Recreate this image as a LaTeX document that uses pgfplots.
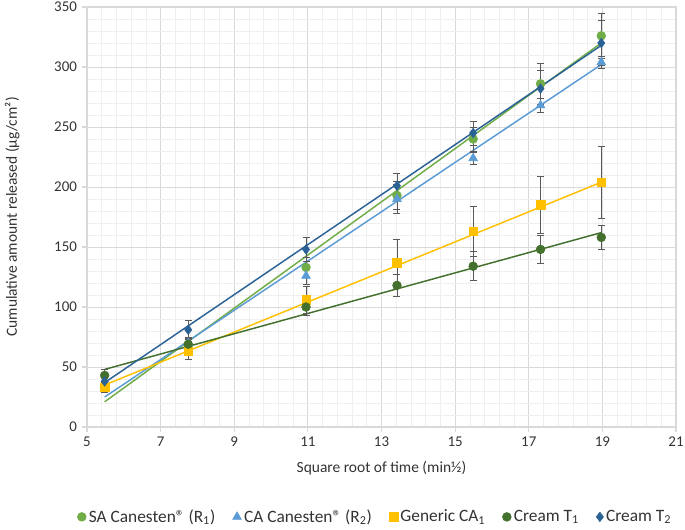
\documentclass[border=0pt]{standalone}
\usepackage{pgfplots}
\usepackage{pgfplotstable}
\pgfplotsset{compat=1.18}
\usepackage{fontspec}
\setmainfont{Carlito}

\definecolor{saGreen}{HTML}{70AD47}
\definecolor{caBlue}{HTML}{5B9BD5}
\definecolor{genYellow}{HTML}{FFC000}
\definecolor{tOneGreen}{HTML}{43702C}
\definecolor{tTwoBlue}{HTML}{2B6296}
\definecolor{txt}{HTML}{333333}
\definecolor{majgrid}{HTML}{D9D9D9}
\definecolor{mingrid}{HTML}{EFEFEF}
\definecolor{errgray}{HTML}{595959}

% x = sqrt(t), y = mean, e = sd
\pgfplotstableread{
x y e
5.48 35 3
7.75 68 5
10.95 133 8
13.42 193 12
15.49 240 10
17.32 286 17
18.97 326 19
}\saTab
\pgfplotstableread{
x y e
5.48 34 3
7.75 70 5
10.95 126 7
13.42 190 12
15.49 224 5
17.32 268 6
18.97 304 5
}\caTab
\pgfplotstableread{
x y e
5.48 33 4
7.75 63 7
10.95 106 11
13.42 137 19
15.49 163 21
17.32 185 24
18.97 204 30
}\genTab
\pgfplotstableread{
x y e
5.48 43 5
7.75 69 5
10.95 100 7
13.42 118 9
15.49 134 12
17.32 148 12
18.97 158 10
}\tOneTab
\pgfplotstableread{
x y e
5.48 38 4
7.75 81 8
10.95 148 10
13.42 201 10
15.49 245 10
17.32 282 15
18.97 320 19
}\tTwoTab

\begin{document}
\begin{tikzpicture}
\begin{axis}[
    name=ax,
    scale only axis,
    width=441.75pt, height=315pt,
    xmin=5, xmax=21, ymin=0, ymax=350,
    xtick={5,7,...,21}, ytick={0,50,...,350},
    minor tick num=4,
    grid=both,
    major grid style={majgrid, line width=0.6pt},
    minor grid style={mingrid, line width=0.5pt},
    axis line style={majgrid, line width=0.8pt},
    tick style={majgrid, line width=0.8pt},
    major tick length=4pt, minor tick length=0pt,
    tick align=outside,
    xtick pos=bottom, ytick pos=left,
    font=\fontsize{11}{13}\selectfont,
    tick label style={text=txt, font=\fontsize{11.2}{13}\selectfont},
    /pgf/number format/assume math mode=true,
    xlabel={Square root of time (min½)},
    ylabel={Cumulative amount released (µg/cm²)},
    label style={text=txt, font=\fontsize{11.6}{13}\selectfont},
    xlabel style={at={(axis description cs:0.5,-0.098)}, anchor=center},
    ylabel style={at={(axis description cs:-0.127,0.5)}, anchor=center},
    legend style={at={(0.49,-0.214)}, anchor=center, draw=none,
        legend columns=-1, text=txt, font=\fontsize{13}{15}\selectfont,
        /tikz/every even column/.append style={column sep=11pt}},
    legend cell align=left,
    clip=false,
    error bars/error bar style={errgray, line width=0.6pt},
    error bars/error mark options={errgray, rotate=90, mark size=2.6pt, line width=0.6pt},
]
% linear trendlines
\addplot[saGreen, line width=1.1pt, forget plot] coordinates {(5.48,21) (18.97,320)};
\addplot[caBlue, line width=1.1pt, forget plot] coordinates {(5.48,25) (18.97,302)};
\addplot[genYellow, line width=1.1pt, forget plot] coordinates {(5.48,35) (18.97,204)};
\addplot[tOneGreen, line width=1.1pt, forget plot] coordinates {(5.48,48) (18.97,162)};
\addplot[tTwoBlue, line width=1.1pt, forget plot] coordinates {(5.48,37) (18.97,318)};

\addplot[only marks, mark=*, mark size=3.3pt, mark options={fill=saGreen, draw=saGreen},
    error bars/.cd, y dir=both, y explicit]
    table[x=x, y=y, y error=e] {\saTab};
\addlegendentry{SA Canesten® (R\textsubscript{1})}
\addplot[only marks, mark=triangle*, mark size=3.8pt, mark options={fill=caBlue, draw=caBlue},
    error bars/.cd, y dir=both, y explicit]
    table[x=x, y=y, y error=e] {\caTab};
\addlegendentry{CA Canesten® (R\textsubscript{2})}
\addplot[only marks, mark=square*, mark size=3.2pt, mark options={fill=genYellow, draw=genYellow},
    error bars/.cd, y dir=both, y explicit]
    table[x=x, y=y, y error=e] {\genTab};
\addlegendentry{Generic CA\textsubscript{1}}
\addplot[only marks, mark=*, mark size=3.3pt, mark options={fill=tOneGreen, draw=tOneGreen},
    error bars/.cd, y dir=both, y explicit]
    table[x=x, y=y, y error=e] {\tOneTab};
\addlegendentry{Cream T\textsubscript{1}}
\addplot[only marks, mark=diamond*, mark size=3.6pt, mark options={fill=tTwoBlue, draw=tTwoBlue},
    error bars/.cd, y dir=both, y explicit]
    table[x=x, y=y, y error=e] {\tTwoTab};
\addlegendentry{Cream T\textsubscript{2}}
\end{axis}
\pgfresetboundingbox
\path ([xshift=-65.25pt, yshift=-76.5pt]ax.south west) rectangle ([xshift=6.75pt, yshift=5.25pt]ax.north east);
\end{tikzpicture}
\end{document}
